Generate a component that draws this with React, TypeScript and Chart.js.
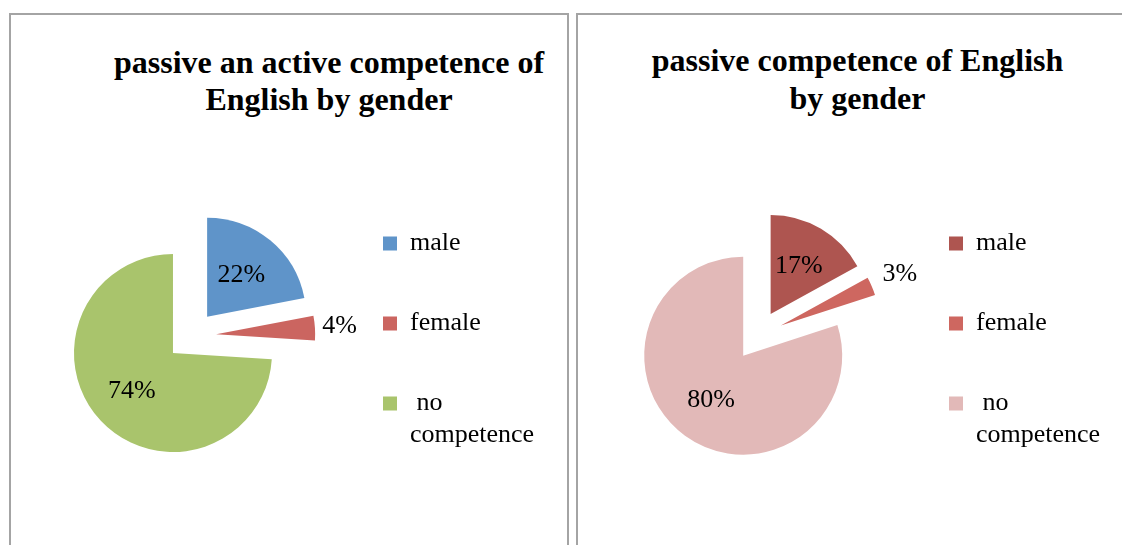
import React, { useEffect, useRef } from 'react';
import { Chart, registerables } from 'chart.js';

Chart.register(...registerables);

// ---- data ----
const categories: (string | string[])[] = ['male', 'female', [' no', 'competence']];
const leftTitle = ['passive an active competence of', 'English by gender'];
const rightTitle = ['passive competence of English', 'by gender'];
const activeAndPassiveShares = [22, 4, 74];
const passiveShares = [17, 3, 80];

// ---- styles ----
const leftColors = ['#5F94C9', '#CB6560', '#A9C46C'];
const rightColors = ['#AE5550', '#CE6760', '#E2B9B8'];
const leftLabelFactors = [0.54, 1.25, 0.57];
const rightLabelFactors = [0.56, 1.31, 0.55];
const SERIF = '"Liberation Serif", "Times New Roman", serif';
const EXPLODE = 25;
const RADIUS = 99;
const CANVAS_W = 556;
const CANVAS_H = 530;
const LEGEND_W = 215;

const explodePlugin = {
  id: 'explodeSlices',
  beforeDatasetDraw(chart: any, args: any) {
    const ctx = chart.ctx;
    args.meta.data.forEach((arc: any) => {
      const mid = (arc.startAngle + arc.endAngle) / 2;
      ctx.save();
      ctx.translate(Math.cos(mid) * EXPLODE, Math.sin(mid) * EXPLODE);
      arc.draw(ctx, chart.chartArea);
      ctx.restore();
    });
    return false;
  },
};

function makeLabelPlugin(factors: number[]) {
  return {
    id: 'sliceLabels',
    afterDatasetsDraw(chart: any) {
      const meta = chart.getDatasetMeta(0);
      const values = chart.data.datasets[0].data as number[];
      const ctx = chart.ctx;
      ctx.save();
      ctx.font = `26px ${SERIF}`;
      ctx.fillStyle = '#000';
      ctx.textAlign = 'center';
      ctx.textBaseline = 'middle';
      meta.data.forEach((arc: any, i: number) => {
        const mid = (arc.startAngle + arc.endAngle) / 2;
        const d = EXPLODE + factors[i] * arc.outerRadius;
        ctx.fillText(`${values[i]}%`, arc.x + Math.cos(mid) * d, arc.y + Math.sin(mid) * d);
      });
      ctx.restore();
    },
  };
}

type PieProps = {
  values: number[];
  colors: string[];
  factors: number[];
  padding: { left: number; right: number; top: number; bottom: number };
  left: number;
  top: number;
};

function ExplodedPie({ values, colors, factors, padding, left, top }: PieProps) {
  const ref = useRef<HTMLCanvasElement | null>(null);
  useEffect(() => {
    if (!ref.current) return;
    const chart = new Chart(ref.current, {
      type: 'pie',
      data: {
        labels: categories as any,
        datasets: [
          {
            data: values,
            backgroundColor: colors,
            borderWidth: 0,
            radius: RADIUS,
          } as any,
        ],
      },
      options: {
        responsive: false,
        animation: false,
        devicePixelRatio: 1,
        events: [],
        layout: { padding },
        plugins: {
          title: { display: false },
          tooltip: { enabled: false },
          legend: {
            display: true,
            position: 'right',
            align: 'start',
            maxWidth: LEGEND_W,
            labels: {
              boxWidth: 14,
              boxHeight: 14,
              padding: 54,
              color: '#000',
              font: { family: SERIF, size: 26, lineHeight: 1.22 },
            },
          },
        },
      } as any,
      plugins: [explodePlugin, makeLabelPlugin(factors)],
    });
    return () => chart.destroy();
  }, []);
  return (
    <canvas
      ref={ref}
      width={CANVAS_W}
      height={CANVAS_H}
      style={{ position: 'absolute', left, top, width: CANVAS_W, height: CANVAS_H }}
    />
  );
}

function Title({ lines, center, top }: { lines: string[]; center: number; top: number }) {
  return (
    <div
      style={{
        position: 'absolute',
        left: center - 250,
        top,
        width: 500,
        textAlign: 'center',
        font: `bold 32px ${SERIF}`,
        lineHeight: '37.4px',
        whiteSpace: 'nowrap',
        color: '#000',
      }}
    >
      {lines.map((l, i) => (
        <React.Fragment key={i}>
          {l}
          {i < lines.length - 1 ? <br /> : null}
        </React.Fragment>
      ))}
    </div>
  );
}

const panelStyle = (left: number): React.CSSProperties => ({
  position: 'absolute',
  left,
  top: 13,
  width: 560,
  height: 560,
  boxSizing: 'border-box',
  border: '2px solid #a4a4a4',
  background: '#fff',
});

export default function App() {
  return (
    <div
      style={{
        position: 'fixed',
        left: 0,
        top: 0,
        width: 1122,
        height: 545,
        overflow: 'hidden',
        background: '#fff',
      }}
    >
      <div style={panelStyle(9)} />
      <div style={panelStyle(576)} />
      <Title lines={leftTitle} center={329} top={43.8} />
      <Title lines={rightTitle} center={857.5} top={42.2} />
      <ExplodedPie
        values={activeAndPassiveShares}
        colors={leftColors}
        factors={leftLabelFactors}
        padding={{ left: 42.4, right: 23, top: 161.5, bottom: 49.7 }}
        left={11}
        top={15}
      />
      <ExplodedPie
        values={passiveShares}
        colors={rightColors}
        factors={rightLabelFactors}
        padding={{ left: 42.8, right: 24, top: 161.5, bottom: 50.7 }}
        left={578}
        top={15}
      />
    </div>
  );
}
